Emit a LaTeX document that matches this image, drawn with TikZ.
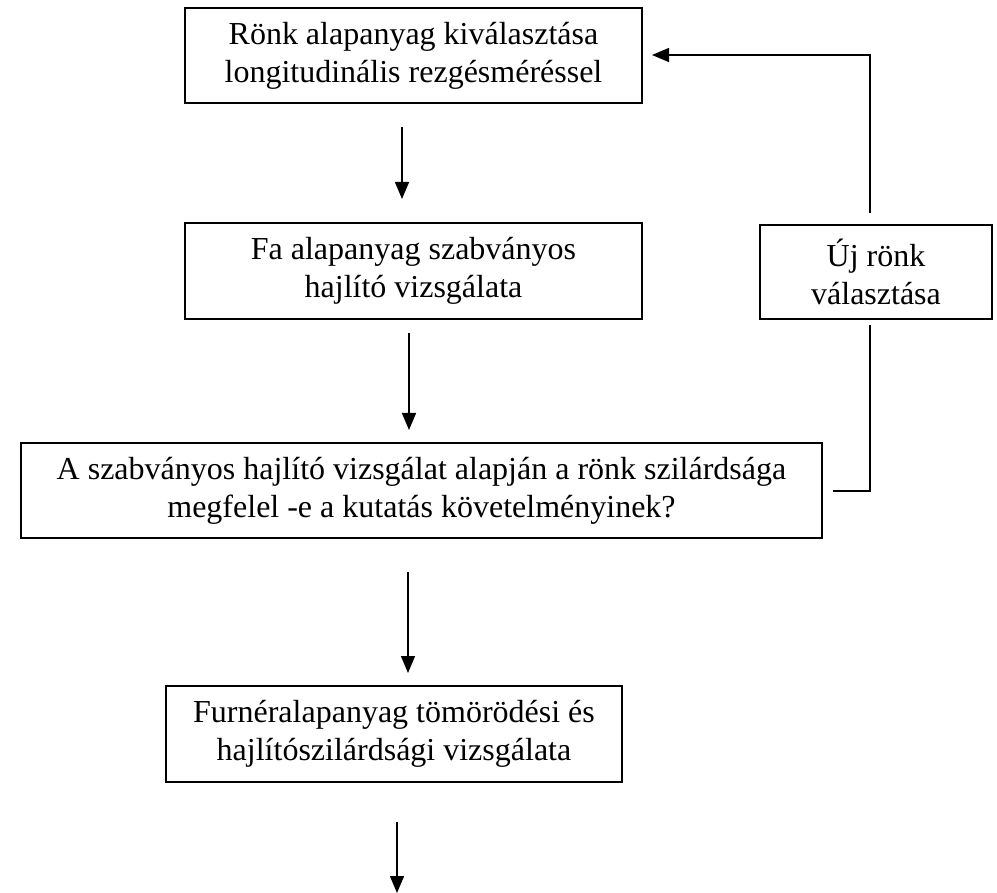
\documentclass[tikz,border=0pt]{standalone}
\usepackage{fontspec}
\setmainfont{Liberation Serif}
\usetikzlibrary{arrows.meta}
\tikzset{
  boxnode/.style={draw, line width=1.6pt, align=center, inner sep=0pt,
    font=\fontsize{32}{38}\selectfont},
  flowarrow/.style={line width=1.4pt, -{Triangle[width=14pt,length=17pt]}},
  flowline/.style={line width=1.4pt}
}
\begin{document}
\begin{tikzpicture}[x=1pt,y=-1pt]
\useasboundingbox (0,0) rectangle (997,893);
\node[boxnode, minimum width=457pt, minimum height=95pt] (b1) at (413.5,55.5)
  {Rönk alapanyag kiválasztása\\longitudinális rezgésméréssel};
\node[boxnode, minimum width=457pt, minimum height=96pt] (b2) at (413.5,271)
  {Fa alapanyag szabványos\\hajlító vizsgálata};
\node[boxnode, minimum width=801pt, minimum height=95pt] (b3) at (421.5,490.5)
  {A szabványos hajlító vizsgálat alapján a rönk szilárdsága\\megfelel -e a kutatás követelményinek?};
\node[boxnode, minimum width=456pt, minimum height=96pt] (b4) at (394,734)
  {Furnéralapanyag tömörödési és\\hajlítószilárdsági vizsgálata};
\node[boxnode, minimum width=232pt, minimum height=94pt] (uj) at (876,272)
  {Új rönk\\választása};
% down arrows
\coordinate (a1s) at (402,127); \coordinate (a1e) at (402,199);
\coordinate (a2s) at (409,333); \coordinate (a2e) at (409,430);
\coordinate (a3s) at (408,572); \coordinate (a3e) at (408,673);
\coordinate (a4s) at (397,822); \coordinate (a4e) at (397,893);
\draw[flowarrow] (a1s) -- (a1e);
\draw[flowarrow] (a2s) -- (a2e);
\draw[flowarrow] (a3s) -- (a3e);
\draw[flowarrow] (a4s) -- (a4e);
% feedback loop
\coordinate (fbs) at (870,213); \coordinate (fbc) at (870,55); \coordinate (fbe) at (652,55);
\draw[flowarrow] (fbs) -- (fbc) -- (fbe);
\coordinate (lbs) at (870,325); \coordinate (lbc) at (870,491); \coordinate (lbe) at (833,491);
\draw[flowline] (lbs) -- (lbc) -- (lbe);
\end{tikzpicture}
\end{document}
